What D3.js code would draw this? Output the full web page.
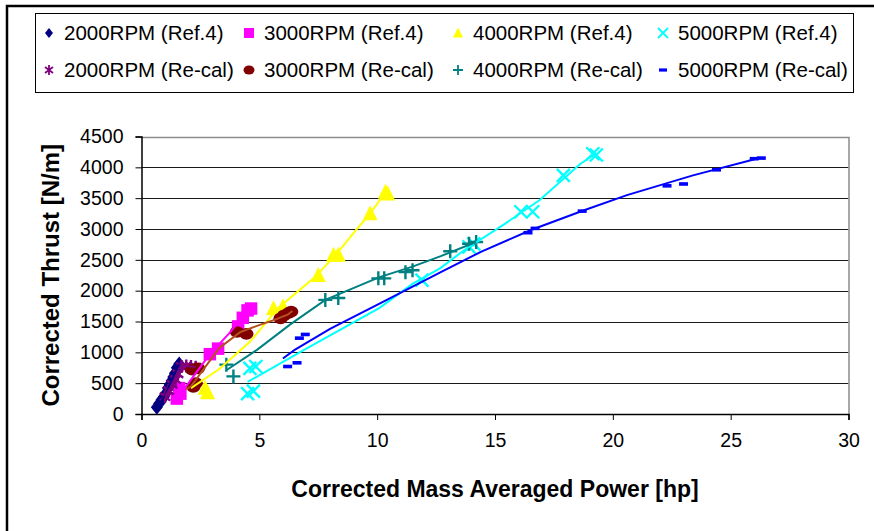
<!DOCTYPE html>
<html>
<head>
<meta charset="utf-8">
<script src="https://cdn.jsdelivr.net/npm/d3@7"></script>
<style>
  html, body { margin: 0; padding: 0; background: #fff; }
  svg { display: block; font-family: "Liberation Sans", Arial, sans-serif; }
</style>
</head>
<body>
<div id="chart"></div>
<script>
// marker data: [power hp, thrust N/m]
var rpm2000Ref = [[0.65,110],[0.75,170],[0.85,230],[0.95,280],[1.05,340],[1.12,420],[1.2,480],[1.28,540],[1.35,600],[1.42,660],[1.5,750],[1.6,810]];
var rpm3000Ref = [[1.5,250],[1.65,330],[1.6,420],[2.9,970],[3.25,1060],[4.1,1420],[4.3,1560],[4.5,1680],[4.65,1710]];
var rpm4000Ref = [[2.7,420],[2.8,350],[5.6,1710],[6.0,1740],[7.5,2250],[8.15,2580],[8.35,2580],[9.7,3250],[10.35,3600],[10.45,3570]];
var rpm5000Ref = [[4.5,330],[4.75,370],[4.6,740],[4.85,770],[11.9,2170],[13.9,2710],[14.1,2760],[16.1,3280],[16.6,3280],[17.9,3870],[19.15,4220],[19.3,4200]];
var rpm2000Cal = [[1.0,280],[1.15,380],[1.3,480],[1.45,560],[1.55,650],[1.7,770],[1.9,780],[2.1,770],[2.3,760]];
var rpm3000Cal = [[2.2,440],[2.3,500],[2.15,720],[2.4,740],[4.05,1330],[4.45,1300],[5.9,1550],[6.05,1600],[6.25,1640],[6.35,1660]];
var rpm4000Cal = [[3.6,800],[3.9,610],[7.8,1850],[8.35,1880],[10.05,2200],[10.3,2200],[11.2,2300],[11.5,2330],[13.1,2640],[13.9,2760],[14.2,2790]];
var rpm5000Cal = [[6.2,770],[6.6,830],[6.7,1230],[6.95,1290],[16.4,2940],[16.7,3010],[18.7,3290],[22.3,3700],[23.0,3730],[24.4,3960],[26.0,4140],[26.3,4150]];

// curves (no legend entry)
var curve2000Ref = [[0.65,110],[1.0,300],[1.3,560],[1.6,810]];
var curve2000Cal = [[1.0,280],[1.3,480],[1.6,680],[1.9,780],[2.3,760]];
var curve3000Ref = [[1.6,300],[2.3,660],[2.9,970],[3.7,1300],[4.6,1710]];
var curve3000Cal = [[1.9,400],[2.1,450],[2.7,760],[3.3,1070],[4.2,1330],[5.2,1470],[5.6,1520],[6.2,1610],[6.4,1670]];
var curve4000Ref = [[2.1,420],[3.3,730],[4.6,1170],[5.8,1720],[7.3,2200],[8.2,2560],[9.1,2980],[9.7,3250],[10.4,3620]];
var curve4000Cal = [[3.6,710],[4.9,1040],[6.3,1450],[7.8,1850],[10.1,2220],[11.5,2390],[12.7,2560],[14.2,2790]];
var curve5000Ref = [[4.5,520],[6.9,1040],[10.1,1720],[11.5,2110],[12.7,2370],[13.7,2660],[15.4,3080],[16.9,3470],[18.6,4050],[19.3,4230]];
var curve5000Cal = [[6.0,900],[6.5,1040],[8.0,1380],[10.1,1790],[12.7,2300],[14.4,2630],[16.5,2980],[18.75,3300],[20.6,3550],[23.4,3870],[26.1,4140]];

var legendLabels = ['2000RPM (Ref.4)','3000RPM (Ref.4)','4000RPM (Ref.4)','5000RPM (Ref.4)',
                    '2000RPM (Re-cal)','3000RPM (Re-cal)','4000RPM (Re-cal)','5000RPM (Re-cal)'];
var xTicks = [0,5,10,15,20,25,30];
var yTicks = [0,500,1000,1500,2000,2500,3000,3500,4000,4500];

var W = 874, H = 531;
var svg = d3.select('#chart').append('svg').attr('width', W).attr('height', H);

// outer chart frame
svg.append('rect').attr('x', 7).attr('y', 6).attr('width', W + 20).attr('height', H + 20)
  .attr('fill', '#fff').attr('stroke', '#000').attr('stroke-width', 2.5);

var x = d3.scaleLinear().domain([0, 30]).range([141.5, 848.5]);
var y = d3.scaleLinear().domain([0, 4500]).range([414, 136.5]);

// gridlines
svg.append('g').selectAll('line').data(yTicks.filter(function(d) { return d > 0 && d < 4500; }))
  .enter().append('line')
  .attr('x1', x(0)).attr('x2', x(30))
  .attr('y1', function(d) { return Math.round(y(d)) + 0.5; })
  .attr('y2', function(d) { return Math.round(y(d)) + 0.5; })
  .attr('stroke', '#1a1a1a').attr('stroke-width', 1);

// plot area border (top, right)
svg.append('path')
  .attr('d', 'M' + x(0) + ',' + (Math.round(y(4500)) + 0.5) + 'H' + (x(30) + 0.5) + 'V' + y(0))
  .attr('fill', 'none').attr('stroke', '#8c8c8c').attr('stroke-width', 1.5);

var xAxis = svg.append('g').attr('transform', 'translate(0,' + y(0) + ')')
  .call(d3.axisBottom(x).tickValues(xTicks).tickSize(6).tickPadding(8).tickFormat(d3.format('d')));
var yAxis = svg.append('g').attr('transform', 'translate(' + x(0) + ',0)')
  .call(d3.axisLeft(y).tickValues(yTicks).tickSize(6).tickPadding(12).tickFormat(d3.format('d')));
[xAxis, yAxis].forEach(function(a) {
  a.select('.domain').attr('stroke', '#000').attr('stroke-width', 1.5);
  a.selectAll('.tick line').attr('stroke', '#000');
  a.selectAll('text').attr('fill', '#000').style('font-size', '19.5px')
    .style('font-family', '"Liberation Sans", Arial, sans-serif');
});
xAxis.selectAll('text').attr('dy', '0.95em');

// axis titles
svg.append('text').attr('x', (x(0) + x(30)) / 2).attr('y', 497)
  .attr('text-anchor', 'middle').style('font-size', '23px').style('font-weight', 'bold')
  .text('Corrected Mass Averaged Power [hp]');
svg.append('text').attr('transform', 'translate(59,' + ((y(0) + y(4500)) / 2) + ') rotate(-90)')
  .attr('text-anchor', 'middle').style('font-size', '24px').style('font-weight', 'bold')
  .text('Corrected Thrust [N/m]');

// marker shapes
function markerPath(kind, s) {
  var h = s / 2;
  if (kind === 'diamond') return 'M0,' + (-h) + 'L' + h * 0.8 + ',0L0,' + h + 'L' + (-h * 0.8) + ',0Z';
  if (kind === 'square') return 'M' + (-h) + ',' + (-h) + 'h' + s + 'v' + s + 'h' + (-s) + 'Z';
  if (kind === 'triangle') return 'M0,' + (-h * 1.1) + 'L' + h + ',' + h * 0.9 + 'L' + (-h) + ',' + h * 0.9 + 'Z';
  if (kind === 'x') return 'M' + (-h) + ',' + (-h) + 'L' + h + ',' + h + 'M' + (-h) + ',' + h + 'L' + h + ',' + (-h);
  if (kind === 'plus') return 'M' + (-h) + ',0H' + h + 'M0,' + (-h) + 'V' + h;
  if (kind === 'star') return 'M' + (-h * 0.8) + ',' + (-h * 0.6) + 'L' + h * 0.8 + ',' + h * 0.6 +
    'M' + (-h * 0.8) + ',' + h * 0.6 + 'L' + h * 0.8 + ',' + (-h * 0.6) + 'M0,' + (-h) + 'V' + h;
  if (kind === 'circle') return 'M' + (-h * 1.1) + ',0a' + h * 1.1 + ',' + h * 0.9 + ' 0 1,0 ' + h * 2.2 + ',0a' +
    h * 1.1 + ',' + h * 0.9 + ' 0 1,0 ' + (-h * 2.2) + ',0Z';
  if (kind === 'dash') return 'M' + (-h) + ',' + (-h * 0.4) + 'h' + s + 'v' + (h * 0.8) + 'h' + (-s) + 'Z';
}

var series = [
  { data: rpm2000Ref, curve: curve2000Ref, color: '#000080', kind: 'diamond', size: 15, line: '#000080' },
  { data: rpm3000Ref, curve: curve3000Ref, color: '#FF00FF', kind: 'square', size: 12.5, line: '#FF00FF' },
  { data: rpm4000Ref, curve: curve4000Ref, color: '#FFFF00', kind: 'triangle', size: 15, line: '#FFFF00' },
  { data: rpm5000Ref, curve: curve5000Ref, color: '#00FFFF', kind: 'x', size: 13, line: '#00FFFF' },
  { data: rpm2000Cal, curve: curve2000Cal, color: '#800080', kind: 'star', size: 13, line: '#800080' },
  { data: rpm3000Cal, curve: curve3000Cal, color: '#800000', kind: 'circle', size: 13, line: '#B5501E' },
  { data: rpm4000Cal, curve: curve4000Cal, color: '#008080', kind: 'plus', size: 14, line: '#008080' },
  { data: rpm5000Cal, curve: curve5000Cal, color: '#0000FF', kind: 'dash', size: 9, line: '#0000FF' }
];
var stroked = { x: true, plus: true, star: true };

var plot = svg.append('g');
series.forEach(function(s) {
  plot.append('g').selectAll('path').data(s.data).enter().append('path')
    .attr('transform', function(d) { return 'translate(' + x(d[0]) + ',' + y(d[1]) + ')'; })
    .attr('d', markerPath(s.kind, s.size))
    .attr('fill', stroked[s.kind] ? 'none' : s.color)
    .attr('stroke', stroked[s.kind] ? s.color : 'none')
    .attr('stroke-width', 2.4);
});
var lineGen = d3.line().x(function(d) { return x(d[0]); }).y(function(d) { return y(d[1]); });
series.forEach(function(s) {
  plot.append('path').datum(s.curve).attr('d', lineGen)
    .attr('fill', 'none').attr('stroke', s.line).attr('stroke-width', 2);
});

// legend
var legend = svg.append('g');
legend.append('rect').attr('x', 35.5).attr('y', 13.5).attr('width', 818).attr('height', 79)
  .attr('fill', '#fff').attr('stroke', '#000').attr('stroke-width', 1);
var legendX = [49, 249, 458, 663];
var legendY = [33, 70];
var items = legend.selectAll('g.item').data(series).enter().append('g').attr('class', 'item')
  .attr('transform', function(d, i) { return 'translate(' + legendX[i % 4] + ',' + legendY[Math.floor(i / 4)] + ')'; });
items.append('path')
  .attr('d', function(d) { return markerPath(d.kind, d.kind === 'dash' ? 8 : 10); })
  .attr('fill', function(d) { return stroked[d.kind] ? 'none' : d.color; })
  .attr('stroke', function(d) { return stroked[d.kind] ? d.color : 'none'; })
  .attr('stroke-width', 1.8);
items.append('text').attr('x', 15).attr('dy', '0.36em').style('font-size', '20.5px')
  .text(function(d, i) { return legendLabels[i]; });
</script>
</body>
</html>
